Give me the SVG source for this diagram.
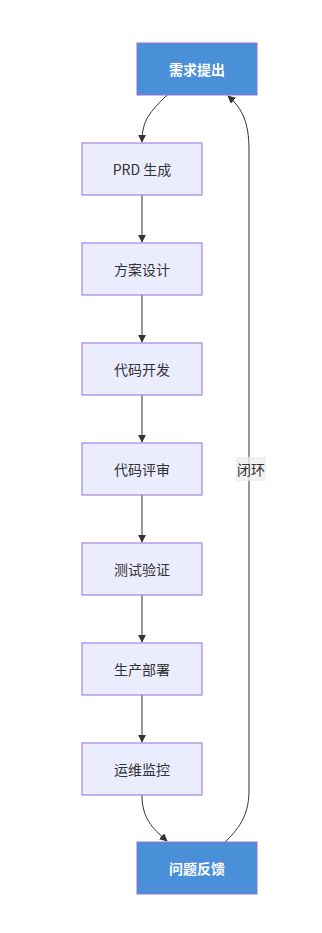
<svg xmlns="http://www.w3.org/2000/svg" width="322" height="933" viewBox="0 0 322 933">
<style>
.n rect{fill:#ECECFF;stroke:#9370DB;stroke-width:1}
.n text{fill:#333;font-family:"Noto Sans CJK SC","Liberation Sans",sans-serif;font-size:14px;text-anchor:middle;dominant-baseline:central}
.h rect{fill:#4A90D9;stroke:#9370DB;stroke-width:1}
.h text{fill:#fff;font-weight:bold;font-family:"Noto Sans CJK SC","Liberation Sans",sans-serif;font-size:14px;text-anchor:middle;dominant-baseline:central}
.e{fill:none;stroke:#333;stroke-width:1;marker-end:url(#ah)}
.lbl{fill:#333;font-family:"Noto Sans CJK SC","Liberation Sans",sans-serif;font-size:14px;text-anchor:middle;dominant-baseline:central}
</style>
<defs>
<marker id="ah" viewBox="0 0 10 10" refX="9" refY="5" markerWidth="8" markerHeight="8" orient="auto" markerUnits="userSpaceOnUse">
<path d="M0,0 L10,5 L0,10 z" fill="#333"/>
</marker>
</defs>
<rect width="322" height="933" fill="#fff"/>
<g id="edges">
<path class="e" d="M167,95 C150,112 142,120 142,142"/>
<path class="e" d="M142,195 L142,242"/>
<path class="e" d="M142,295 L142,342"/>
<path class="e" d="M142,395 L142,442"/>
<path class="e" d="M142,495 L142,542"/>
<path class="e" d="M142,595 L142,642"/>
<path class="e" d="M142,695 L142,742"/>
<path class="e" d="M142,795 C142,818 152,828 167,841"/>
<path class="e" d="M225,842 C242,826 249,812 249,790 L249,150 C249,122 242,108 228,96"/>
<rect x="236" y="457" width="30" height="24" fill="#EEEEEE" opacity="0.8"/>
<text class="lbl" x="251" y="469">闭环</text>
</g>
<g id="n1" class="h"><rect x="137" y="43" width="120" height="52"/><text x="197" y="69">需求提出</text></g>
<g id="n2" class="n"><rect x="82" y="143" width="120" height="52"/><text x="142" y="169">PRD 生成</text></g>
<g id="n3" class="n"><rect x="82" y="243" width="120" height="52"/><text x="142" y="269">方案设计</text></g>
<g id="n4" class="n"><rect x="82" y="343" width="120" height="52"/><text x="142" y="369">代码开发</text></g>
<g id="n5" class="n"><rect x="82" y="443" width="120" height="52"/><text x="142" y="469">代码评审</text></g>
<g id="n6" class="n"><rect x="82" y="543" width="120" height="52"/><text x="142" y="569">测试验证</text></g>
<g id="n7" class="n"><rect x="82" y="643" width="120" height="52"/><text x="142" y="669">生产部署</text></g>
<g id="n8" class="n"><rect x="82" y="743" width="120" height="52"/><text x="142" y="769">运维监控</text></g>
<g id="n9" class="h"><rect x="137" y="842" width="120" height="52"/><text x="197" y="868">问题反馈</text></g>
</svg>
